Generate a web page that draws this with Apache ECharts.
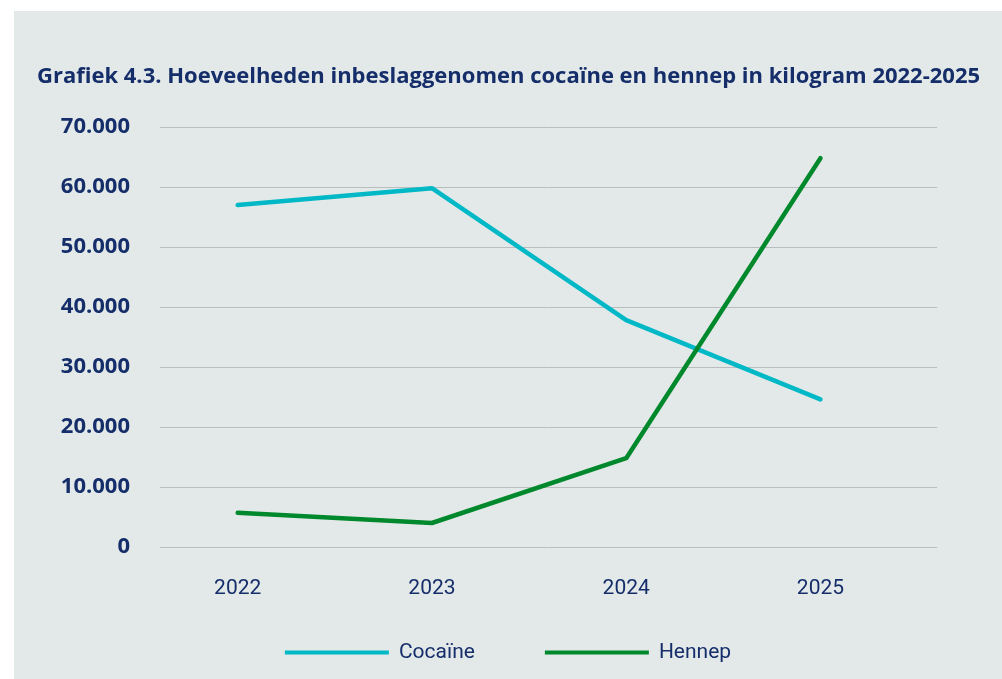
<!DOCTYPE html>
<html>
<head>
<meta charset="utf-8">
<script src="https://cdn.jsdelivr.net/npm/echarts@6/dist/echarts.min.js"></script>
<style>
  html, body { margin: 0; padding: 0; background: #fff; }
  #chart { position: absolute; left: 14px; top: 11px; width: 988px; height: 668px; background: #e3e9e9; }
</style>
</head>
<body>
<div id="chart"></div>
<script>
const title = 'Grafiek 4.3. Hoeveelheden inbeslaggenomen cocaïne en hennep in kilogram 2022-2025'
const years = [2022, 2023, 2024, 2025]
const cocaine = [57000, 59800, 37800, 24600]
const hennep = [5700, 4000, 14800, 64800]
const yTicks = [0, 10000, 20000, 30000, 40000, 50000, 60000, 70000]

const navy = '#152e6a'
const font = 'Roboto'
const boldFont = 'Open Sans'

const chart = echarts.init(document.getElementById('chart'))

const option = {
  animation: false,
  title: {
    text: title,
    left: 18,
    top: 50,
    textStyle: { fontFamily: boldFont, fontSize: 22, fontWeight: 'bold', color: navy, lineHeight: 22 }
  },
  legend: {
    data: ['Cocaïne', 'Hennep'],
    left: 'center',
    top: 626,
    icon: 'rect',
    itemWidth: 104,
    itemHeight: 4,
    itemGap: 70,
    textStyle: { fontFamily: font, fontSize: 21, color: navy, padding: [0, 0, 0, 5] }
  },
  grid: { left: 146, right: 65, top: 116, bottom: 132 },
  xAxis: {
    type: 'value',
    min: 2021.6,
    max: 2025.6,
    axisLine: { show: false },
    axisTick: { show: false },
    splitLine: { show: false },
    axisLabel: {
      customValues: years,
      formatter: v => String(v),
      margin: 31,
      fontFamily: font,
      fontSize: 21,
      color: navy
    }
  },
  yAxis: {
    type: 'value',
    min: yTicks[0],
    max: yTicks[yTicks.length - 1],
    interval: 10000,
    axisLine: { show: false },
    axisTick: { show: false },
    splitLine: { lineStyle: { color: '#b9bdbe', width: 1 } },
    axisLabel: {
      margin: 30,
      fontFamily: boldFont,
      fontSize: 22,
      fontWeight: 'bold',
      color: navy,
      padding: [0, 0, 13, 0],
      formatter: v => v === 0 ? '0' : v.toLocaleString('nl-NL')
    }
  },
  series: [
    { name: 'Cocaïne', data: years.map((y, i) => [y, cocaine[i]]), color: '#00b8c6' },
    { name: 'Hennep', data: years.map((y, i) => [y, hennep[i]]), color: '#00892c' }
  ].map(o => ({
    ...o,
    type: 'line',
    showSymbol: false,
    lineStyle: { width: 4.5, cap: 'round', join: 'round' }
  }))
}

chart.setOption(option)
</script>
</body>
</html>
